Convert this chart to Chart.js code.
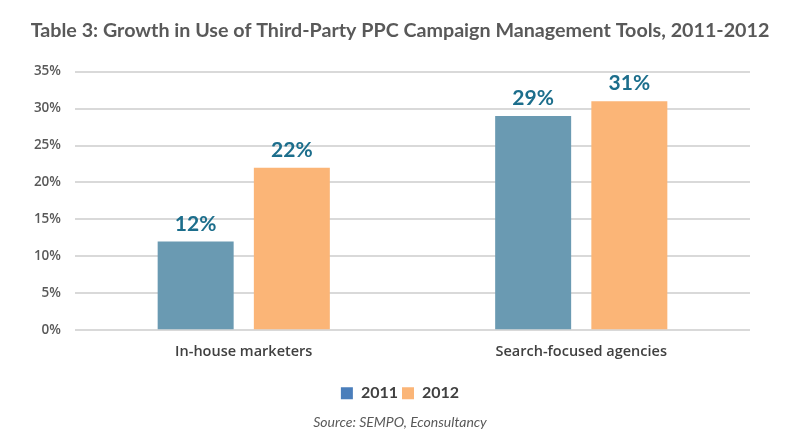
<!DOCTYPE html>
<html>
<head>
<meta charset="utf-8">
<script src="https://cdn.jsdelivr.net/npm/chart.js@4"></script>
<style>
  html, body { margin: 0; padding: 0; background: #fff; }
  #wrap { width: 800px; height: 434px; }
</style>
</head>
<body>
<div id="wrap"><canvas id="chart-ppc-tools"></canvas></div>
<script>
const categories = ["In-house marketers", "Search-focused agencies"];
const years = ["2011", "2012"];
const values2011 = [12, 29];
const values2012 = [22, 31];
const yTicks = [0, 5, 10, 15, 20, 25, 30, 35];

document.addEventListener("DOMContentLoaded", main);

function main() {
  // percentage labels above each bar
  const barLabels = {
    id: "barLabels",
    afterDatasetsDraw(chart) {
      const ctx = chart.ctx;
      ctx.save();
      ctx.font = "bold 21px Lato";
      ctx.fillStyle = "#1c6e8c";
      ctx.textAlign = "center";
      ctx.textBaseline = "bottom";
      chart.data.datasets.forEach((ds, i) => {
        chart.getDatasetMeta(i).data.forEach((bar, j) => {
          ctx.fillText(ds.data[j] + "%", bar.x, bar.y - 7);
        });
      });
      ctx.restore();
    },
  };

  const ctx = document.getElementById("chart-ppc-tools").getContext("2d");
  new Chart(ctx, {
    type: "bar",
    data: {
      labels: categories,
      datasets: [
        {
          label: years[0],
          data: values2011,
          backgroundColor: "#6a9ab2",
          legendColor: "#4a7ebb",
          barPercentage: 0.79,
          categoryPercentage: 0.57,
        },
        {
          label: years[1],
          data: values2012,
          backgroundColor: "#fbb577",
          legendColor: "#fbb577",
          barPercentage: 0.79,
          categoryPercentage: 0.57,
        },
      ],
    },
    options: {
      responsive: true,
      maintainAspectRatio: false,
      animation: false,
      layout: { padding: { left: 0, right: 0, top: 0, bottom: 3 } },
      plugins: {
        title: {
          display: true,
          text: "Table 3: Growth in Use of Third-Party PPC Campaign Management Tools, 2011-2012",
          color: "#595959",
          font: { family: "Lato", size: 19.7, weight: "bold" },
          padding: { top: 19, bottom: 29 },
        },
        subtitle: {
          display: true,
          position: "bottom",
          text: "Source: SEMPO, Econsultancy",
          color: "#595959",
          font: { family: "Lato", size: 14, style: "italic" },
          padding: { top: 3, bottom: 0 },
        },
        legend: {
          position: "bottom",
          labels: {
            boxWidth: 12,
            boxHeight: 12,
            padding: 4,
            color: "#404040",
            font: { family: "Lato", size: 16, weight: "bold" },
            generateLabels(chart) {
              return chart.data.datasets.map((ds, i) => ({
                text: ds.label,
                fillStyle: ds.legendColor,
                strokeStyle: ds.legendColor,
                lineWidth: 0,
                fontColor: "#404040",
                datasetIndex: i,
              }));
            },
          },
        },
        tooltip: { enabled: false },
      },
      scales: {
        x: {
          afterFit(scale) { scale.height = 51; },
          grid: { display: false, drawTicks: false },
          border: { display: false },
          ticks: {
            color: "#404040",
            font: { family: "Open Sans", size: 14.5, weight: 600 },
            padding: 13,
          },
        },
        y: {
          min: 0,
          max: 35,
          afterFit(scale) { scale.width = 75; },
          afterBuildTicks(scale) { scale.ticks = yTicks.map(v => ({ value: v })); },
          grid: { color: "#d9d9d9", lineWidth: 2, drawTicks: false },
          border: { display: false },
          ticks: {
            color: "#595959",
            font: { family: "Open Sans", size: 13.5, weight: 600 },
            padding: 14,
            callback: (v) => v + "%",
          },
        },
        // empty right-hand axis that only reserves the right margin
        yRight: {
          position: "right",
          afterFit(scale) { scale.width = 50; },
          grid: { display: false, drawTicks: false },
          border: { display: false },
          ticks: { display: false },
        },
      },
    },
    plugins: [barLabels],
  });
}
</script>
</body>
</html>
